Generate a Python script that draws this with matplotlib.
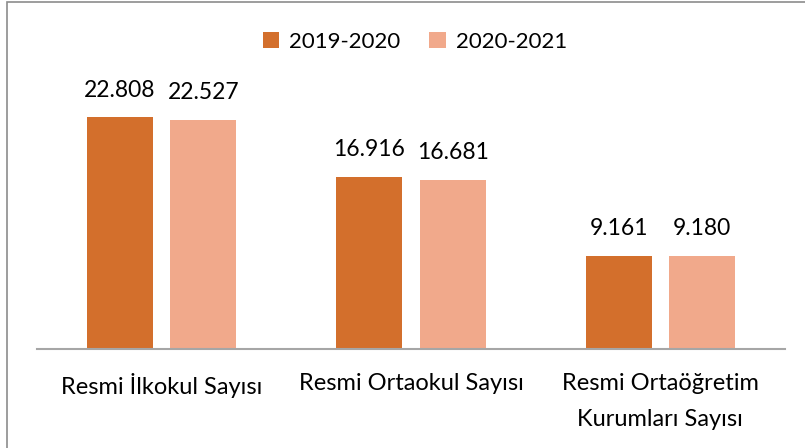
import matplotlib
matplotlib.use("Agg")
import matplotlib.pyplot as plt
from matplotlib.patches import Rectangle
import numpy as np

categories = ["Resmi İlkokul Sayısı", "Resmi Ortaokul Sayısı", "Resmi Ortaöğretim\nKurumları Sayısı"]
series_names = ["2019-2020", "2020-2021"]
values_2019 = [22808, 16916, 9161]
values_2020 = [22527, 16681, 9180]
colors = ["#D36F2C", "#F1A98B"]

plt.rcParams['font.family'] = ['Lato', 'DejaVu Sans']

W, H = 805, 448
fig = plt.figure(figsize=(W/100, H/100), dpi=100)
fig.patches.append(Rectangle((7/W, -0.1), 1.2, 1 - 2/H + 0.1, transform=fig.transFigure,
                             fill=False, edgecolor="#8C8C8C", linewidth=1.2, zorder=0))

ax = fig.add_axes([37/W, 1 - 349/H, (785-37)/W, (349-95)/H])
x = np.arange(len(categories))
bw = 0.265
off = 0.167
b1 = ax.bar(x - off, values_2019, bw, color=colors[0], label=series_names[0])
b2 = ax.bar(x + off, values_2020, bw, color=colors[1], label=series_names[1])

def fmt(v):
    return f"{v:,}".replace(",", ".")

for bars, vals in ((b1, values_2019), (b2, values_2020)):
    for r, v in zip(bars, vals):
        ax.annotate(fmt(v), (r.get_x() + r.get_width()/2, r.get_height()),
                    xytext=(0, 12), textcoords="offset points",
                    ha="center", va="bottom", fontsize=16.5, color="black")

ax.set_xlim(-0.5, 2.5)
ax.set_ylim(0, 25000)
ax.set_xticks(x)
ax.set_xticklabels(categories, fontsize=17, linespacing=1.93)
ax.tick_params(axis="x", length=0, pad=17)
ax.set_yticks([])
for s in ("top", "right", "left"):
    ax.spines[s].set_visible(False)
ax.spines["bottom"].set_color("#A6A6A6")
ax.spines["bottom"].set_linewidth(1.5)

fig.legend(handles=[b1, b2], labels=series_names, loc="center", bbox_to_anchor=(415/W, 1 - 42/H),
           ncol=2, frameon=False, fontsize=16, handlelength=0.75, handleheight=0.75,
           columnspacing=1.3, handletextpad=0.45)

fig.savefig("out.png", dpi=100, facecolor="white")
